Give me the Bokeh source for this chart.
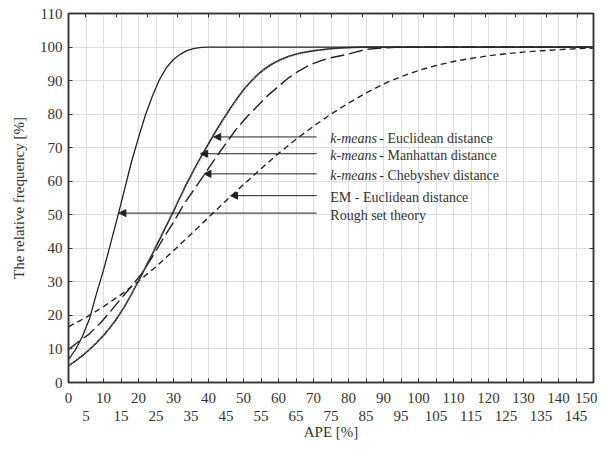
from bokeh.plotting import figure
from bokeh.models import Range1d, LinearAxis, FixedTicker, Arrow, NormalHead, Label
from bokeh.embed import file_html
from bokeh.resources import INLINE

# ---- data ----
rough_x = [0, 2, 4, 6, 8, 10, 12, 14, 16, 18, 20, 22, 24, 26, 28, 30, 32, 34, 36, 38, 40, 150]
rough_y = [6.8, 9.8, 13.8, 19.0, 26.5, 33.5, 41.3, 49.2, 57.5, 65.8, 73.0, 79.8, 85.5, 90.3,
           93.9, 96.3, 97.9, 99.0, 99.6, 99.9, 100, 100]

km_x = [0, 2, 4, 6, 8, 10, 12, 14, 16, 18, 20, 22, 24, 26, 28, 30, 32, 34, 36, 38, 40, 42, 44,
        46, 48, 50, 52, 54, 56, 58, 60, 63, 66, 70, 75, 80, 85, 150]
manh_y = [4.9, 6.4, 8.0, 9.8, 11.8, 14.0, 16.5, 19.3, 22.6, 26.3, 30.2, 34.3, 38.4, 42.6, 46.8,
          51.0, 55.5, 59.8, 63.8, 67.6, 71.2, 74.8, 78.2, 81.4, 84.5, 87.3, 89.7, 91.8, 93.5,
          94.9, 96.0, 97.3, 98.2, 98.9, 99.5, 99.85, 100, 100]
eucl_y = [5.0, 6.5, 8.1, 9.9, 11.9, 14.1, 16.6, 19.4, 22.7, 26.4, 30.3, 34.4, 38.5, 42.7, 46.9,
          51.1, 55.5, 59.7, 63.6, 67.4, 71.0, 74.6, 78.0, 81.2, 84.3, 87.1, 89.5, 91.6, 93.3,
          94.7, 95.9, 97.2, 98.1, 98.9, 99.5, 99.85, 100, 100]

cheb_x = [0, 3, 6, 9, 12, 15, 18, 21, 24, 27, 30, 33, 36, 39, 42, 45, 48, 51, 54, 57, 60, 63,
          66, 69, 72, 75, 80, 85, 90, 95, 150]
cheb_y = [9.8, 12.3, 14.5, 17.6, 21.2, 25.0, 28.7, 32.6, 37.5, 42.8, 47.8, 53.2, 57.7, 62.3,
          66.9, 71.3, 75.6, 79.2, 82.4, 85.6, 88.3, 90.9, 93.0, 94.7, 95.9, 96.8, 97.9, 99.3,
          99.75, 100, 100]

em_x = [0, 5, 10, 15, 20, 25, 30, 35, 40, 45, 50, 55, 60, 65, 70, 75, 80, 85, 90, 95, 100,
        105, 110, 115, 120, 125, 130, 135, 140, 145, 150]
em_y = [16.6, 19.4, 22.6, 26.2, 30.2, 34.5, 39.3, 44.2, 49.2, 54.2, 59.0, 63.7, 68.3, 72.5,
        76.4, 80.0, 83.3, 86.3, 89.0, 91.2, 93.0, 94.5, 95.7, 96.6, 97.4, 98.0, 98.5, 98.9,
        99.2, 99.5, 99.7]

# annotations
label_italic = ["k-means", "k-means", "k-means", "", ""]
label_rest = ["- Euclidean distance", "- Manhattan distance", "- Chebyshev distance",
              "EM - Euclidean distance", "Rough set theory"]
arrow_y = [73.2, 68.2, 62.2, 55.7, 50.5]
arrow_head_x = [41.5, 37.7, 38.7, 46.3, 14.4]
arrow_tail_x = 70.9
label_x = 74.8

x_major = list(range(0, 151, 10))
x_minor = list(range(5, 150, 10))
x_grid = list(range(0, 151, 5))
y_major = list(range(0, 111, 10))
top_ticks = [4.9, 13.7, 22.5, 31.2, 40.0, 48.8, 57.6, 66.4, 75.1, 83.9, 92.7, 101.5,
             110.3, 119.0, 127.8, 136.6, 145.4]

FONT = "Liberation Serif"
INK = "#222222"
TXT = "#333333"

p = figure(width=597, height=442, output_backend="svg", toolbar_location=None,
           x_range=Range1d(0, 150), y_range=Range1d(0, 110),
           min_border_left=68, min_border_right=4, min_border_top=13, min_border_bottom=59)
p.background_fill_color = "white"
p.border_fill_color = "white"
p.outline_line_color = "#333333"
p.outline_line_width = 1.5

# grid
p.xgrid.ticker = FixedTicker(ticks=x_grid)
p.ygrid.ticker = FixedTicker(ticks=y_major)
p.xgrid.grid_line_color = "#dddddd"
p.ygrid.grid_line_color = "#dddddd"


def style_axis(ax):
    ax.axis_line_color = "#333333"
    ax.axis_line_width = 1.5
    ax.major_tick_in = 4
    ax.major_tick_out = 0
    ax.minor_tick_in = 4
    ax.minor_tick_out = 0
    ax.major_tick_line_color = "#333333"
    ax.minor_tick_line_color = "#333333"
    ax.major_label_text_font = FONT
    ax.major_label_text_font_size = "15px"
    ax.major_label_text_color = TXT
    ax.axis_label_text_font = FONT
    ax.axis_label_text_font_size = "15px"
    ax.axis_label_text_font_style = "normal"
    ax.axis_label_text_color = TXT


# bottom axis row 1
xa = p.xaxis[0]
style_axis(xa)
xa.ticker = FixedTicker(ticks=x_major, minor_ticks=x_minor)
xa.major_label_standoff = 10

# bottom axis row 2
xa2 = LinearAxis(ticker=FixedTicker(ticks=x_minor, minor_ticks=[]))
style_axis(xa2)
xa2.axis_line_color = None
xa2.major_tick_line_color = None
xa2.minor_tick_line_color = None
xa2.major_label_standoff = 5
xa2.axis_label = "APE [%]"
xa2.axis_label_standoff = 0
p.add_layout(xa2, "below")

# left axis
ya = p.yaxis[0]
style_axis(ya)
ya.ticker = FixedTicker(ticks=y_major, minor_ticks=[])
ya.major_label_standoff = 6
ya.axis_label = "The relative frequency [%]"
ya.axis_label_standoff = 10

# right axis (ticks only)
ra = LinearAxis(ticker=FixedTicker(ticks=y_major, minor_ticks=[]))
style_axis(ra)
ra.major_label_overrides = {t: "" for t in y_major}
ra.major_label_standoff = 0
p.add_layout(ra, "right")

# top axis (ticks only)
ta = LinearAxis(ticker=FixedTicker(ticks=top_ticks, minor_ticks=[]))
style_axis(ta)
ta.major_label_overrides = {t: "" for t in top_ticks}
ta.major_label_standoff = 0
p.add_layout(ta, "above")

# curves
p.line(em_x, em_y, line_color=INK, line_width=1.4, line_dash="6 4")
p.line(cheb_x, cheb_y, line_color=INK, line_width=1.4, line_dash="14 5")
p.line(km_x, manh_y, line_color=INK, line_width=1.3)
p.line(km_x, eucl_y, line_color="#444444", line_width=1.8, line_dash="1 1")
p.line(rough_x, rough_y, line_color=INK, line_width=1.3)

# arrows and labels
for i in range(len(arrow_y)):
    p.add_layout(Arrow(end=NormalHead(size=7, fill_color=INK, line_color=INK),
                       x_start=arrow_tail_x, y_start=arrow_y[i],
                       x_end=arrow_head_x[i], y_end=arrow_y[i],
                       line_color=INK, line_width=1))
    off = 0
    if label_italic[i]:
        p.add_layout(Label(x=label_x, y=arrow_y[i] - 0.6, text=label_italic[i],
                           text_font=FONT, text_font_size="14px", text_font_style="italic",
                           text_color=TXT, text_baseline="middle", text_align="left"))
        off = 49
    p.add_layout(Label(x=label_x, y=arrow_y[i] - 0.6, x_offset=off, text=label_rest[i],
                       text_font=FONT, text_font_size="14px",
                       text_color=TXT, text_baseline="middle", text_align="left"))

open("out.html", "w").write(file_html(p, INLINE))
